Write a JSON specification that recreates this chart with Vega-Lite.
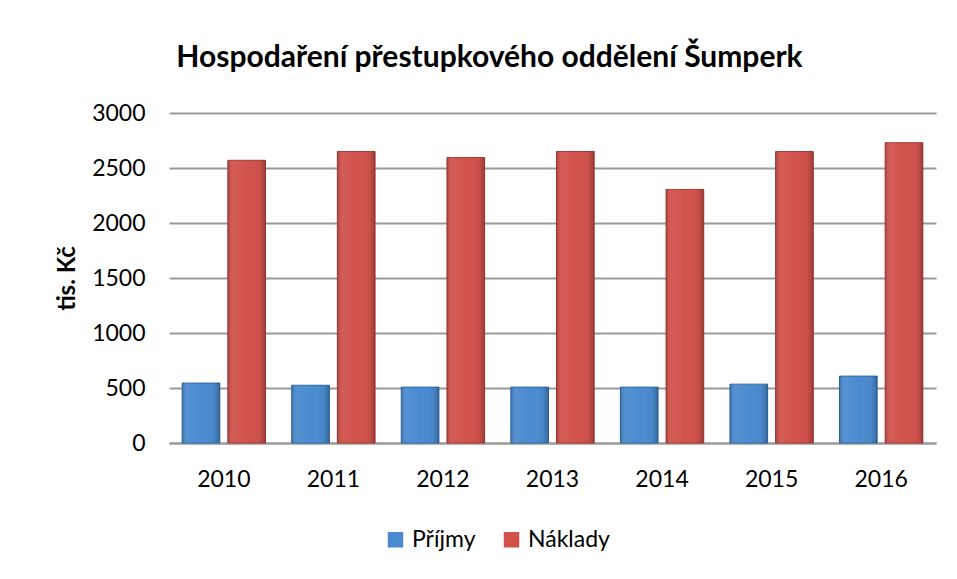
{
  "$schema": "https://vega.github.io/schema/vega-lite/v6.json",
  "width": 767,
  "height": 330,
  "autosize": "none",
  "padding": {"left": 169, "top": 113, "right": 21, "bottom": 136},
  "background": "white",
  "title": {
    "text": "Hospodaření přestupkového oddělení Šumperk",
    "font": "Lato",
    "fontSize": 30,
    "fontWeight": "bold",
    "color": "black",
    "baseline": "alphabetic",
    "anchor": "middle",
    "dx": -63,
    "offset": 5
  },
  "config": {
    "view": {"stroke": null},
    "font": "Lato"
  },
  "data": {
    "values": [
      {"rok": "2010", "rada": "Příjmy", "hodnota": 545},
      {"rok": "2010", "rada": "Náklady", "hodnota": 2570},
      {"rok": "2011", "rada": "Příjmy", "hodnota": 525},
      {"rok": "2011", "rada": "Náklady", "hodnota": 2650},
      {"rok": "2012", "rada": "Příjmy", "hodnota": 508},
      {"rok": "2012", "rada": "Náklady", "hodnota": 2595},
      {"rok": "2013", "rada": "Příjmy", "hodnota": 508},
      {"rok": "2013", "rada": "Náklady", "hodnota": 2650},
      {"rok": "2014", "rada": "Příjmy", "hodnota": 508},
      {"rok": "2014", "rada": "Náklady", "hodnota": 2305},
      {"rok": "2015", "rada": "Příjmy", "hodnota": 535},
      {"rok": "2015", "rada": "Náklady", "hodnota": 2650},
      {"rok": "2016", "rada": "Příjmy", "hodnota": 608},
      {"rok": "2016", "rada": "Náklady", "hodnota": 2730}
    ]
  },
  "encoding": {
    "x": {
      "field": "rok",
      "type": "nominal",
      "scale": {"paddingInner": 0.239, "paddingOuter": 0.12},
      "axis": {
        "title": null,
        "labelAngle": 0,
        "labelFont": "Lato",
        "labelFontSize": 23,
        "labelColor": "black",
        "labelPadding": 25,
        "ticks": false,
        "domainColor": "#9a9a9a",
        "domainWidth": 2
      }
    },
    "xOffset": {
      "field": "rada",
      "type": "nominal",
      "sort": ["Příjmy", "Náklady"],
      "scale": {"paddingInner": 0.175, "paddingOuter": 0}
    },
    "y": {
      "field": "hodnota",
      "type": "quantitative",
      "scale": {"domain": [0, 3000]},
      "axis": {
        "title": "tis. Kč",
        "titleFont": "Lato",
        "titleFontSize": 24,
        "titleFontWeight": "bold",
        "titleColor": "black",
        "titlePadding": 12,
        "values": [0, 500, 1000, 1500, 2000, 2500, 3000],
        "format": "d",
        "labelFont": "Lato",
        "labelFontSize": 23,
        "labelColor": "black",
        "labelPadding": 24,
        "ticks": false,
        "domain": false,
        "gridColor": "#9a9a9a",
        "gridWidth": 2
      }
    }
  },
  "layer": [
    {
      "mark": {"type": "bar", "strokeWidth": 1},
      "encoding": {
        "color": {
          "field": "rada",
          "type": "nominal",
          "sort": ["Příjmy", "Náklady"],
          "scale": {"domain": ["Příjmy", "Náklady"], "range": ["#4a8bd0", "#d2524b"]},
          "legend": {
            "title": null,
            "orient": "none",
            "direction": "horizontal",
            "legendX": 215,
            "legendY": 415,
            "symbolType": "square",
            "symbolSize": 240,
            "symbolStrokeWidth": 0,
            "labelFont": "Lato",
            "labelFontSize": 23,
            "labelColor": "black",
            "labelOffset": 5,
            "columnPadding": 24,
            "padding": 0
          }
        },
        "stroke": {
          "field": "rada",
          "type": "nominal",
          "scale": {"domain": ["Příjmy", "Náklady"], "range": ["#2f6aa8", "#a83a35"]},
          "legend": null
        }
      }
    },
    {
      "mark": {
        "type": "bar",
        "fill": {
          "gradient": "linear",
          "x1": 0, "y1": 0, "x2": 1, "y2": 0,
          "stops": [
            {"offset": 0, "color": "rgba(0,0,0,0.18)"},
            {"offset": 0.15, "color": "rgba(255,255,255,0.06)"},
            {"offset": 0.5, "color": "rgba(255,255,255,0.0)"},
            {"offset": 0.85, "color": "rgba(0,0,0,0.04)"},
            {"offset": 1, "color": "rgba(0,0,0,0.25)"}
          ]
        }
      }
    }
  ]
}
